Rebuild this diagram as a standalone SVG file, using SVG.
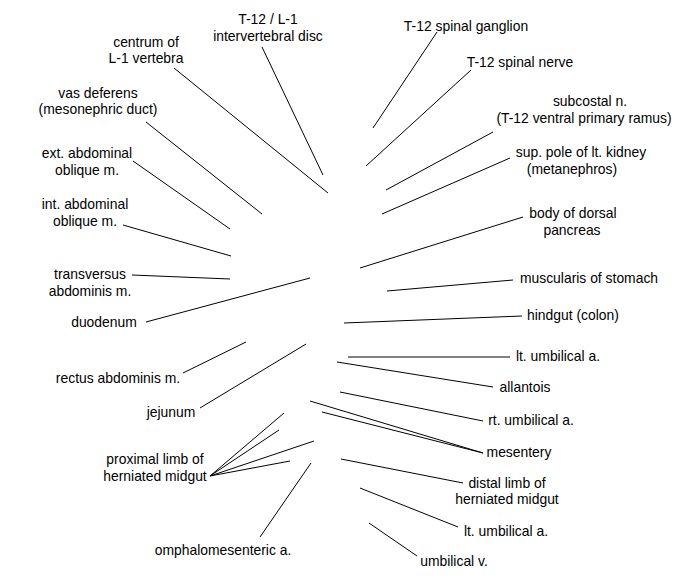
<svg xmlns="http://www.w3.org/2000/svg" width="675" height="580" viewBox="0 0 675 580">
<style>
text{font-family:"Liberation Sans",Arial,sans-serif;font-size:13.9px;fill:#000;text-anchor:middle}
line{stroke:#000;stroke-width:1}
</style>
<rect width="675" height="580" fill="#fff"/>
<g id="connectors">
<line x1="262" y1="47" x2="323" y2="175"/>
<line x1="174" y1="68" x2="328" y2="193"/>
<line x1="146" y1="122" x2="262" y2="214"/>
<line x1="133" y1="161" x2="230" y2="229"/>
<line x1="123" y1="225" x2="231" y2="256"/>
<line x1="132" y1="275" x2="230" y2="279"/>
<line x1="146" y1="322" x2="310" y2="278"/>
<line x1="183" y1="373" x2="246" y2="342"/>
<line x1="200" y1="408" x2="306" y2="344"/>
<line x1="210" y1="476" x2="284" y2="413"/>
<line x1="210" y1="476" x2="279" y2="430"/>
<line x1="210" y1="476" x2="314" y2="441"/>
<line x1="210" y1="476" x2="290" y2="461"/>
<line x1="260" y1="537" x2="311" y2="463"/>
<line x1="437" y1="32" x2="373" y2="128"/>
<line x1="471" y1="70" x2="366" y2="166"/>
<line x1="493" y1="132" x2="386" y2="190"/>
<line x1="510" y1="158" x2="382" y2="214"/>
<line x1="523" y1="217" x2="360" y2="268"/>
<line x1="513" y1="280" x2="387" y2="291"/>
<line x1="522" y1="316" x2="344" y2="323"/>
<line x1="510" y1="357" x2="348" y2="357"/>
<line x1="493" y1="387" x2="337" y2="362"/>
<line x1="483" y1="421" x2="340" y2="392"/>
<line x1="483" y1="453" x2="310" y2="401"/>
<line x1="483" y1="453" x2="322" y2="412"/>
<line x1="463" y1="483" x2="341" y2="459"/>
<line x1="458" y1="527" x2="360" y2="488"/>
<line x1="417" y1="556" x2="369" y2="523"/>
</g>
<g id="label-t12-l1-disc"><text x="268" y="24">T-12 / L-1</text><text x="268" y="41">intervertebral disc</text></g>
<g id="label-centrum"><text x="146" y="47">centrum of</text><text x="146" y="63">L-1 vertebra</text></g>
<g id="label-vas-deferens"><text x="98" y="98">vas deferens</text><text x="98" y="114">(mesonephric duct)</text></g>
<g id="label-ext-oblique"><text x="87" y="158">ext. abdominal</text><text x="87" y="175">oblique m.</text></g>
<g id="label-int-oblique"><text x="85" y="209">int. abdominal</text><text x="85" y="226">oblique m.</text></g>
<g id="label-transversus"><text x="90" y="279">transversus</text><text x="90" y="296">abdominis m.</text></g>
<g id="label-duodenum"><text x="104" y="327">duodenum</text></g>
<g id="label-rectus"><text x="118" y="383">rectus abdominis m.</text></g>
<g id="label-jejunum"><text x="171" y="417">jejunum</text></g>
<g id="label-proximal-limb"><text x="155" y="464">proximal limb of</text><text x="155" y="481">herniated midgut</text></g>
<g id="label-omphalomesenteric"><text x="223" y="555">omphalomesenteric a.</text></g>
<g id="label-spinal-ganglion"><text x="466" y="31">T-12 spinal ganglion</text></g>
<g id="label-spinal-nerve"><text x="520" y="67">T-12 spinal nerve</text></g>
<g id="label-subcostal"><text x="590" y="106">subcostal n.</text><text x="584" y="123">(T-12 ventral primary ramus)</text></g>
<g id="label-kidney"><text x="581" y="157">sup. pole of lt. kidney</text><text x="572" y="174">(metanephros)</text></g>
<g id="label-pancreas"><text x="573" y="218">body of dorsal</text><text x="572" y="235">pancreas</text></g>
<g id="label-stomach"><text x="589" y="283">muscularis of stomach</text></g>
<g id="label-hindgut"><text x="573" y="320">hindgut (colon)</text></g>
<g id="label-lt-umbilical-a-upper"><text x="558" y="361">lt. umbilical a.</text></g>
<g id="label-allantois"><text x="525" y="392">allantois</text></g>
<g id="label-rt-umbilical-a"><text x="531" y="425">rt. umbilical a.</text></g>
<g id="label-mesentery"><text x="519" y="457">mesentery</text></g>
<g id="label-distal-limb"><text x="507" y="488">distal limb of</text><text x="507" y="504">herniated midgut</text></g>
<g id="label-lt-umbilical-a-lower"><text x="506" y="536">lt. umbilical a.</text></g>
<g id="label-umbilical-v"><text x="454" y="566">umbilical v.</text></g>
</svg>
